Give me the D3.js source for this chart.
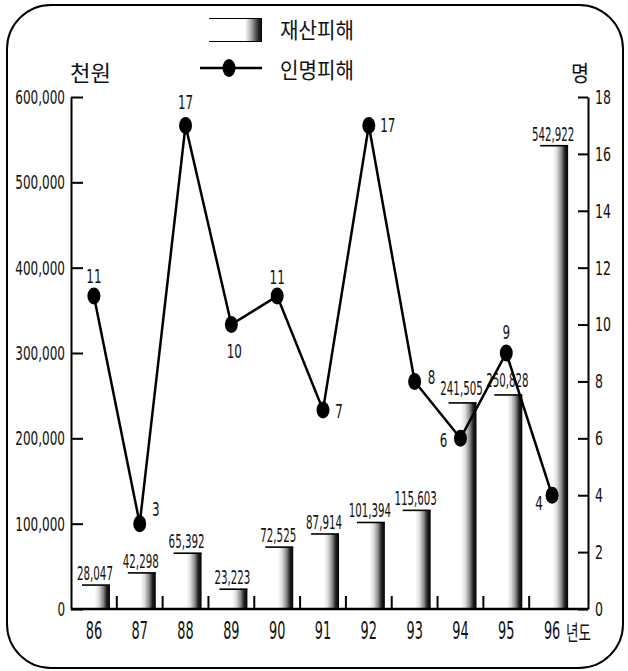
<!DOCTYPE html>
<html>
<head>
<meta charset="utf-8">
<script src="https://cdn.jsdelivr.net/npm/d3@7"></script>
<style>
  body { margin: 0; background: #fff; }
  text { font-family: "Liberation Sans Narrow", "DejaVu Sans Condensed", "Liberation Sans", sans-serif; fill: #111; }
  .kr { font-family: "Noto Sans CJK KR", "Noto Sans", sans-serif; }
</style>
</head>
<body>
<script>
// data
const years = ['86', '87', '88', '89', '90', '91', '92', '93', '94', '95', '96']
const property = [28047, 42298, 65392, 23223, 72525, 87914, 101394, 115603, 241505, 250828, 542922] // 천원
const casualties = [11, 3, 17, 10, 11, 7, 17, 8, 6, 9, 4] // 명
const leftTicks = [0, 100000, 200000, 300000, 400000, 500000, 600000]
const rightTicks = [0, 2, 4, 6, 8, 10, 12, 14, 16, 18]

const W = 628, H = 671
const svg = d3.select('body').append('svg')
  .attr('width', W)
  .attr('height', H)

// the original type is a tall condensed face: squeeze each text to a set width
function squeezeTo (sel, widthOf) {
  sel.each(function () {
    const t = d3.select(this)
    const nat = this.getComputedTextLength()
    const k = widthOf(t.text()) / nat
    const x0 = +t.attr('x') || 0
    t.attr('x', x0 / k).attr('transform', `scale(${k},1)`)
  })
}
const numW = (dw, cw) => s => {
  let w = 0
  for (const c of s) w += (c === ',') ? cw : dw
  return w
}

const defs = svg.append('defs')
const grad = defs.append('linearGradient').attr('id', 'barGrad')
  .attr('x1', '0%').attr('x2', '100%').attr('y1', '0%').attr('y2', '0%')
;[[0, '#fff'], [0.45, '#fff'], [0.6, '#ddd'], [0.76, '#888'], [0.88, '#222'], [1, '#000']].forEach(s => {
  grad.append('stop').attr('offset', s[0]).attr('stop-color', s[1])
})
const lgrad = defs.append('linearGradient').attr('id', 'legGrad')
  .attr('x1', '0%').attr('x2', '100%')
;[[0, '#fff'], [0.68, '#fff'], [0.8, '#aaa'], [0.92, '#333'], [1, '#000']].forEach(s => {
  lgrad.append('stop').attr('offset', s[0]).attr('stop-color', s[1])
})

// frame
svg.append('rect')
  .attr('x', 7).attr('y', 5).attr('width', 616).attr('height', 663)
  .attr('rx', 44).attr('ry', 44)
  .attr('fill', 'none').attr('stroke', '#000').attr('stroke-width', 2)

const x = d3.scaleBand().domain(years).range([71, 575])
const yL = d3.scaleLinear().domain([0, 600000]).range([609, 97])
const yR = d3.scaleLinear().domain([0, 18]).range([609, 97])
const bw = x.bandwidth()

// bars
const bars = svg.append('g')
property.forEach((v, i) => {
  const bx = x(years[i]) + bw * 0.24
  const barW = bw * 0.61
  bars.append('rect')
    .attr('x', bx).attr('y', yL(v))
    .attr('width', barW).attr('height', yL(0) - yL(v))
    .attr('fill', 'url(#barGrad)')
  bars.append('line')
    .attr('x1', bx).attr('x2', bx + barW)
    .attr('y1', yL(v)).attr('y2', yL(v))
    .attr('stroke', '#000').attr('stroke-width', 1.6)
  bars.append('text')
    .attr('x', bx + barW / 2 - 1)
    .attr('y', yL(v) - (v > 200000 && v < 300000 ? 8 : 5))
    .attr('text-anchor', 'middle')
    .attr('font-size', 20)
    .text(d3.format(',')(v))
})
squeezeTo(bars.selectAll('text'), numW(6.4, 4))

// axes
const axL = svg.append('g')
  .attr('transform', 'translate(71,0)')
  .call(d3.axisLeft(yL).tickValues(leftTicks).tickSize(-12).tickSizeOuter(0).tickPadding(6).tickFormat(d3.format(',')))
const axR = svg.append('g')
  .attr('transform', 'translate(588,0)')
  .call(d3.axisRight(yR).tickValues(rightTicks).tickSize(-10).tickSizeOuter(0).tickPadding(7))
;[axL, axR].forEach(ax => {
  ax.select('.domain').attr('stroke', '#000').attr('stroke-width', 2)
  ax.selectAll('.tick line').attr('stroke', '#000').attr('stroke-width', 2)
  ax.selectAll('.tick text').attr('font-size', 20).attr('fill', '#111')
    .attr('font-family', '"Liberation Sans Narrow", "DejaVu Sans Condensed", sans-serif')
})
squeezeTo(axL.selectAll('.tick text'), numW(7.6, 4.2))
squeezeTo(axR.selectAll('.tick text'), numW(8, 4))

// baseline + boundary ticks
svg.append('line')
  .attr('x1', 71).attr('x2', 588).attr('y1', yL(0)).attr('y2', yL(0))
  .attr('stroke', '#000').attr('stroke-width', 2.5)
svg.append('g').selectAll('line')
  .data(years.slice(1))
  .join('line')
  .attr('x1', d => x(d)).attr('x2', d => x(d))
  .attr('y1', yL(0)).attr('y2', yL(0) - 13)
  .attr('stroke', '#000').attr('stroke-width', 2)

const axB = svg.append('g')
  .attr('transform', `translate(0,${yL(0)})`)
  .call(d3.axisBottom(x).tickSize(0).tickPadding(12))
axB.select('.domain').remove()
axB.selectAll('.tick text').attr('font-size', 25).attr('fill', '#111')
  .attr('font-family', '"Liberation Sans Narrow", "DejaVu Sans Condensed", sans-serif')
squeezeTo(axB.selectAll('.tick text'), numW(8.2, 4))

// line series
const pts = casualties.map((v, i) => ({ year: years[i], v }))
const line = d3.line()
  .x(d => x(d.year) + bw / 2)
  .y(d => yR(d.v))
svg.append('path')
  .datum(pts)
  .attr('d', line)
  .attr('fill', 'none')
  .attr('stroke', '#000')
  .attr('stroke-width', 2.5)
svg.append('g').selectAll('ellipse')
  .data(pts)
  .join('ellipse')
  .attr('cx', d => x(d.year) + bw / 2)
  .attr('cy', d => yR(d.v))
  .attr('rx', 6.5).attr('ry', 8.5)
  .attr('fill', '#000')

const ptOffset = [[0, -13], [16, -8], [0, -16], [3, 33], [0, -12], [16, 8], [19, 7], [17, 3], [-17, 9], [0, -14], [-13, 15]]
const ptLabels = svg.append('g').selectAll('text')
  .data(pts)
  .join('text')
  .attr('x', (d, i) => x(d.year) + bw / 2 + ptOffset[i][0])
  .attr('y', (d, i) => yR(d.v) + ptOffset[i][1])
  .attr('text-anchor', 'middle')
  .attr('font-size', 20)
  .text(d => d.v)
squeezeTo(ptLabels, numW(7.6, 4))

// axis titles
const t1 = svg.append('text').attr('class', 'kr')
  .attr('x', 70).attr('y', 81).attr('font-size', 22).text('천원')
const t2 = svg.append('text').attr('class', 'kr')
  .attr('x', 571).attr('y', 81).attr('font-size', 22).text('명')
const t3 = svg.append('text').attr('class', 'kr')
  .attr('x', 566).attr('y', 640).attr('font-size', 21).text('년도')
squeezeTo(t1, () => 41)
squeezeTo(t2, () => 18)
squeezeTo(t3, () => 25)

// legend
const leg = svg.append('g')
leg.append('rect')
  .attr('x', 209).attr('y', 18).attr('width', 53).attr('height', 24)
  .attr('fill', 'url(#legGrad)')
leg.append('line').attr('x1', 209).attr('x2', 262).attr('y1', 18.5).attr('y2', 18.5)
  .attr('stroke', '#000').attr('stroke-width', 1)
leg.append('line').attr('x1', 209).attr('x2', 262).attr('y1', 41.5).attr('y2', 41.5)
  .attr('stroke', '#000').attr('stroke-width', 1)
leg.append('line').attr('x1', 200).attr('x2', 262).attr('y1', 68).attr('y2', 68)
  .attr('stroke', '#000').attr('stroke-width', 2.6)
leg.append('ellipse').attr('cx', 229).attr('cy', 68).attr('rx', 6.5).attr('ry', 9).attr('fill', '#000')
const l1 = leg.append('text').attr('class', 'kr')
  .attr('x', 280).attr('y', 38).attr('font-size', 22).text('재산피해')
const l2 = leg.append('text').attr('class', 'kr')
  .attr('x', 280).attr('y', 78).attr('font-size', 22).text('인명피해')
squeezeTo(l1, () => 74)
squeezeTo(l2, () => 74)
</script>
</body>
</html>
